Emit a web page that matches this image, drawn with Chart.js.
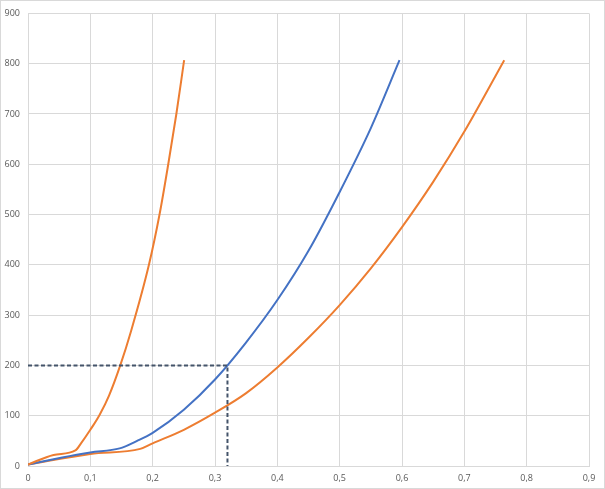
<!DOCTYPE html>
<html>
<head>
<meta charset="utf-8">
<script src="https://cdn.jsdelivr.net/npm/chart.js@4.4.1/dist/chart.umd.min.js"></script>
<style>
  html, body { margin: 0; padding: 0; background: #fff; }
  canvas { display: block; }
</style>
</head>
<body>
<canvas id="curveChart" width="605" height="489"></canvas>
<script>
    // steep orange curve
    const steepX = [0, 0.041, 0.076, 0.085, 0.1, 0.115, 0.13, 0.148, 0.1655, 0.194, 0.211, 0.225, 0.238, 0.2505];
    const steepY = [3, 22, 31, 45, 72, 102, 140, 200, 269, 400, 500, 600, 700, 807];

    // blue curve
    const blueX = [0, 0.076, 0.1, 0.147, 0.175, 0.2, 0.25, 0.3, 0.35, 0.4, 0.45, 0.5, 0.55, 0.596];
    const blueY = [3, 22, 27, 35, 50, 66, 112, 172, 246, 330, 428, 545, 672, 807];

    // flat orange curve
    const flatX = [0, 0.1, 0.18, 0.2, 0.25, 0.3, 0.35, 0.4, 0.45, 0.5, 0.55, 0.6, 0.65, 0.7, 0.764];
    const flatY = [3, 24, 34, 45, 72, 106, 145, 196, 255, 320, 393, 475, 565, 665, 807];

    // dashed reading guide
    const guideX = [0, 0.32, 0.32];
    const guideY = [200, 200, 0];

    const xTicks = { min: 0, max: 0.9, step: 0.1 };
    const yTicks = { min: 0, max: 900, step: 100 };

    const pts = (xs, ys) => xs.map((x, i) => ({ x: x, y: ys[i] }));

    const frame = {
      id: 'frame',
      beforeDraw(chart) {
        const g = chart.ctx;
        g.save();
        g.fillStyle = '#fff';
        g.fillRect(0, 0, chart.width, chart.height);
        g.restore();
      },
      afterDraw(chart) {
        const g = chart.ctx;
        g.save();
        g.strokeStyle = '#d9d9d9';
        g.lineWidth = 1;
        g.strokeRect(0.5, 0.5, chart.width - 1, chart.height - 1);
        g.restore();
      },
    };

    const comma = (v, digits) => {
      const r = Math.round(v * 10) / 10;
      return r === 0 ? '0' : r.toFixed(digits).replace('.', ',');
    };

    const line = (label, xs, ys, color, extra) => Object.assign({
      label: label,
      data: pts(xs, ys),
      showLine: true,
      borderColor: color,
      backgroundColor: color,
      borderWidth: 2,
      pointRadius: 0,
      cubicInterpolationMode: 'monotone',
      fill: false,
    }, extra || {});

    const ctx = document.getElementById('curveChart').getContext('2d');
    const curveChart = new Chart(ctx, {
      type: 'scatter',
      data: {
        datasets: [
          line('guide', guideX, guideY, '#44546a', { borderDash: [4, 2.5], cubicInterpolationMode: 'default', tension: 0, order: 0 }),
          line('blue', blueX, blueY, '#4472c4', { order: 2 }),
          line('steep', steepX, steepY, '#ed7d31', { order: 1 }),
          line('flat', flatX, flatY, '#ed7d31', { order: 3 }),
        ],
      },
      options: {
        responsive: false,
        animation: false,
        layout: { padding: { left: 0, top: 10, right: 16, bottom: 0 } },
        plugins: {
          legend: { display: false },
          tooltip: { enabled: false },
        },
        scales: {
          x: {
            type: 'linear',
            min: xTicks.min,
            max: xTicks.max,
            afterFit: (s) => { s.height = 23; },
            ticks: {
              stepSize: xTicks.step,
              padding: 7,
              color: '#595959',
              font: { family: 'Open Sans', size: 9 },
              callback: (v) => comma(v, 1),
            },
            grid: { color: '#d9d9d9', drawTicks: false },
            border: { color: '#d9d9d9' },
          },
          y: {
            min: yTicks.min,
            max: yTicks.max,
            afterFit: (s) => { s.width = 28; },
            ticks: {
              stepSize: yTicks.step,
              padding: 8,
              color: '#595959',
              font: { family: 'Open Sans', size: 9 },
            },
            grid: { color: '#d9d9d9', drawTicks: false },
            border: { color: '#d9d9d9' },
          },
        },
      },
      plugins: [frame],
    });
</script>
</body>
</html>
